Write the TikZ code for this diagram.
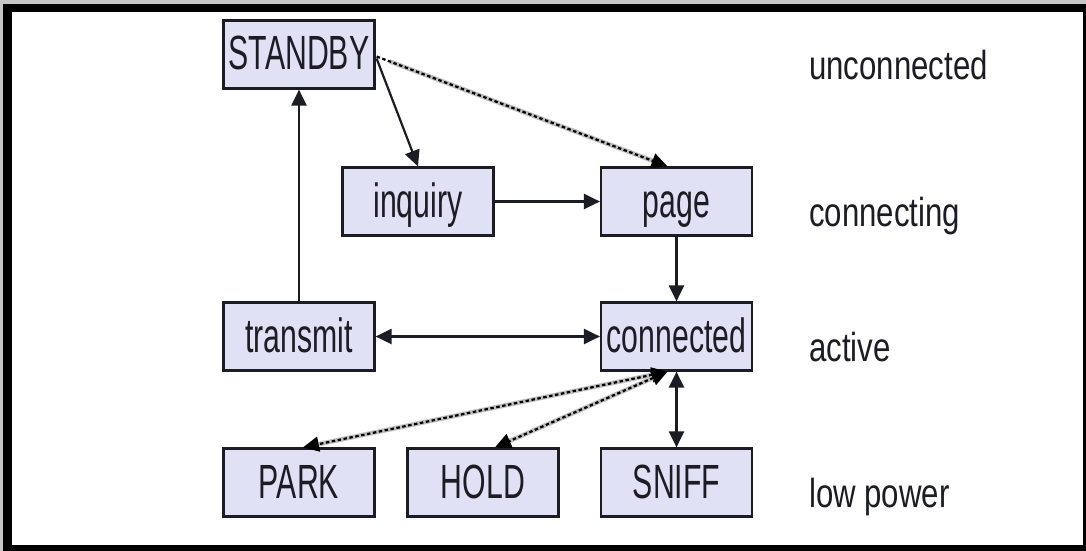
\documentclass[tikz,border=0pt]{standalone}
\usepackage{fontspec}
\usepackage{graphicx}
\setmainfont{Liberation Sans}
\usetikzlibrary{arrows.meta,calc}

\definecolor{boxfill}{RGB}{225,225,246}
\definecolor{inkdark}{RGB}{28,28,36}

% condensed lettering for the boxes and the level labels
\newcommand\boxtext[1]{\scalebox{0.63}[1]{#1}}
\newcommand\leveltext[1]{\scalebox{0.77}[1]{#1}}

\tikzset{
  state/.style={draw=inkdark, line width=2.2pt, fill=boxfill,
    minimum width=151pt, minimum height=68pt, inner sep=0pt,
    font=\fontsize{48}{48}\selectfont, text=inkdark,
    text height=35pt, text depth=4pt},
  level/.style={anchor=base west, inner sep=0pt, text=inkdark,
    font=\fontsize{40.5}{40.5}\selectfont},
  link/.style={draw=inkdark, line width=2.2pt},
  fwd/.style={-{Triangle[length=16pt,width=15pt]}},
  both/.style={{Triangle[length=16pt,width=15pt]}-{Triangle[length=16pt,width=15pt]}},
  dashunder/.style={draw=gray!50, line width=4.5pt, shorten <=14pt, shorten >=14pt},
  dashline/.style={draw=black, line width=2.2pt, dash pattern=on 3.5pt off 2.5pt}
}

\begin{document}
\begin{tikzpicture}[x=1pt, y=-1pt]
  \useasboundingbox (0,0) rectangle (1086,551);
  % frame
  \fill[gray!45] (0,0) rectangle (1086,551);
  \fill[black] (3,4) rectangle (1086,551);
  \fill[white] (12,12) rectangle (1083,545);

  % states
  \node[state] (standby)   at (299,54.5)  {\boxtext{STANDBY}};
  \node[state] (inquiry)   at (418,201.5) {\boxtext{inquiry}};
  \node[state] (page)      at (676.5,201.5) {\boxtext{page}};
  \node[state] (transmit)  at (299,336.5) {\boxtext{transmit}};
  \node[state] (connected) at (676.5,336.5) {\boxtext{connected}};
  \node[state] (park)      at (299,482.5) {\boxtext{PARK}};
  \node[state] (hold)      at (483,482.5) {\boxtext{HOLD}};
  \node[state] (sniff)     at (676.5,482.5) {\boxtext{SNIFF}};

  % level labels
  \node[level] (lvA) at (809,79)  {\leveltext{unconnected}};
  \node[level] (lvB) at (809,226) {\leveltext{connecting}};
  \node[level] (lvC) at (809,361) {\leveltext{active}};
  \node[level] (lvD) at (809,507) {\leveltext{low power}};

  % solid transitions
  \draw[link, fwd] ($(standby.east)+(1,4)$) -- (inquiry.north);
  \draw[link, fwd] (inquiry.east) -- (page.west);
  \draw[link, fwd] (page.south) -- (connected.north);
  \draw[link, fwd] (transmit.north) -- (standby.south);
  \draw[link, both] (transmit.east) -- (connected.west);
  \draw[link, both] (connected.south) -- (sniff.north);

  % dashed transitions
  \draw[dashunder] ($(standby.east)+(1,2)$) -- ($(page.north)+(-9,0)$);
  \draw[dashline, fwd] ($(standby.east)+(1,2)$) -- ($(page.north)+(-9,0)$);

  \draw[dashunder] ($(connected.south)+(-9,0)$) -- ($(park.north)+(4,0)$);
  \draw[dashline, both] ($(connected.south)+(-9,0)$) -- ($(park.north)+(4,0)$);

  \draw[dashunder] ($(connected.south)+(-9,0)$) -- ($(hold.north)+(12,0)$);
  \draw[dashline, both] ($(connected.south)+(-9,0)$) -- ($(hold.north)+(12,0)$);
\end{tikzpicture}
\end{document}
